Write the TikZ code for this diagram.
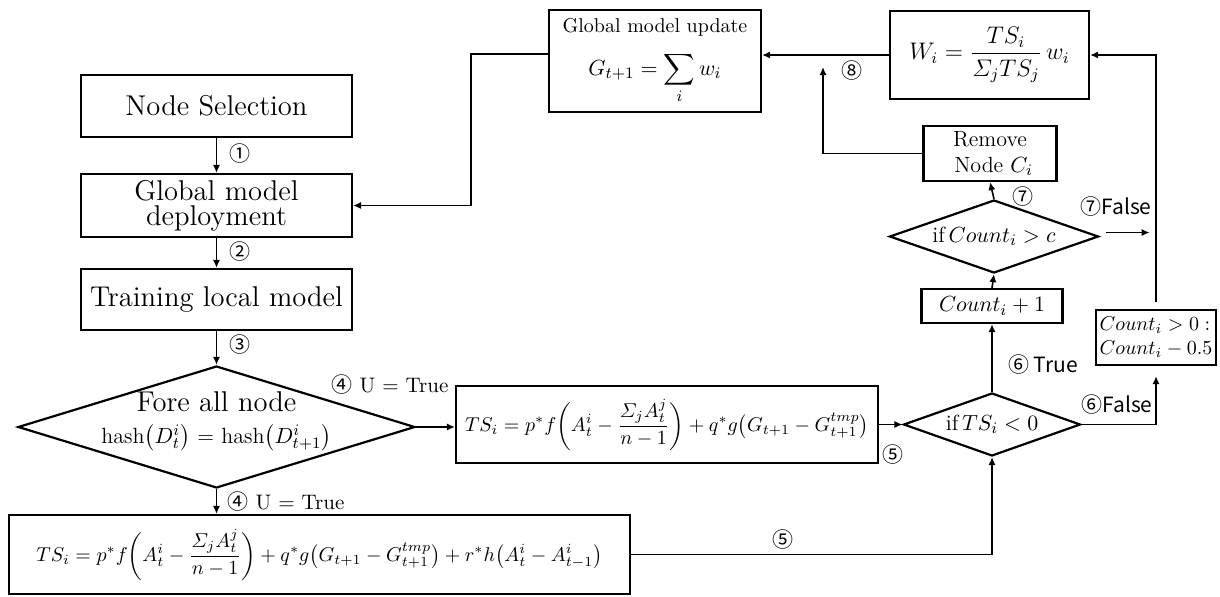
\documentclass[tikz,border=0pt]{standalone}
\usepackage{amsmath}
\usepackage{fontspec}
\newfontfamily\cjkfont{Noto Sans CJK SC}
\usetikzlibrary{shapes.geometric,arrows.meta,calc}

% circled step numbers and sans labels
\newcommand{\stepno}[1]{{\cjkfont #1}}
\newcommand{\sanslbl}[1]{{\cjkfont #1}}
% pieces of the trust score formula
\newcommand{\tsbase}{TS_i = p^{*} f\biggl(A_t^i - \dfrac{\varSigma_j A_t^j}{n-1}\biggr) + q^{*} g\bigl(G_{t+1} - G_{t+1}^{tmp}\bigr)}

\tikzset{
  box/.style={draw, line width=1.1pt, inner sep=1pt, align=center},
  dia/.style={draw, diamond, line width=1.1pt, inner sep=0pt},
  link/.style={line width=0.8pt, -{Latex[length=4pt,width=3.6pt]}},
  big/.style={font=\fontsize{14.3}{12.5}\selectfont},
  mid/.style={font=\fontsize{11}{13}\selectfont},
  frm/.style={font=\fontsize{10}{13}\selectfont},
  lbl/.style={inner sep=0pt, font=\fontsize{10.5}{12}\selectfont},
}

\begin{document}
\begin{tikzpicture}[x=0.5pt,y=-0.5pt]
\useasboundingbox (0,0) rectangle (1220,596);

% left column
\node[box, big, minimum width=135.5pt, minimum height=31pt] (sel) at (216.5,106) {Node Selection};
\node[box, big, minimum width=135.5pt, minimum height=31.5pt] (dep) at (216.5,205.5) {Global model\\deployment};
\node[box, big, minimum width=135.5pt, minimum height=30.5pt] (train) at (216.5,299.5) {Training local model};
\node[dia, minimum width=198.5pt, minimum height=61pt] (fore) at (216.5,427) {};
\node[inner sep=0pt, align=center, font=\fontsize{14.3}{13}\selectfont] (foreT) at (216.5,421)
  {Fore all node\\[3pt]{\fontsize{11}{13}\selectfont$\mathrm{hash}\bigl(D_t^i\bigr)\ \text{=}\ \mathrm{hash}\bigl(D_{t+1}^i\bigr)$}};

% trust score boxes
\node[box, frm, minimum width=211pt, minimum height=38.5pt] (tsA) at (667,424.5) {$\tsbase$};
\node[box, minimum width=310.5pt, minimum height=39.5pt, font=\fontsize{10.4}{13}\selectfont] (tsB) at (319.5,554.5)
  {$\tsbase + r^{*} h\bigl(A_t^i - A_{t-1}^i\bigr)$};

% right column
\node[dia, minimum width=88.5pt, minimum height=31.5pt] (ifts) at (992,424.5) {};
\node[mid, inner sep=0pt] (iftsT) at (992,424.5) {if\,$TS_i < 0$};
\node[box, mid, minimum width=70.5pt, minimum height=17pt] (cnt) at (992,306) {$Count_i + 1$};
\node[dia, minimum width=104.5pt, minimum height=36.5pt] (ifc) at (994,236.5) {};
\node[mid, inner sep=0pt] (ifcT) at (994,236.5) {if\,$Count_i > c$};
\node[box, mid, minimum width=66.5pt, minimum height=27.5pt] (rem) at (990,153.5) {Remove\\\ Node $C_i$};
\node[box, minimum width=99.5pt, minimum height=44pt, font=\fontsize{11.5}{14}\selectfont] (W) at (989.5,55)
  {$W_i = \dfrac{TS_i}{\varSigma_j TS_j}\, w_i$};
\node[box, minimum width=106pt, minimum height=51pt, font=\fontsize{10}{12}\selectfont] (upd) at (655,61)
  {Global model update\\[7pt] \fontsize{11}{13}\selectfont$G_{t+1} = \displaystyle\sum_i w_i$};
\node[box, minimum width=60pt, minimum height=27.5pt, align=left, inner sep=2pt, font=\fontsize{10.3}{12}\selectfont] (dec) at (1156,337.5)
  {$Count_i > 0:$\\$Count_i - 0.5$};

% flow
\draw[link] (sel) -- (dep);
\draw[link] (dep) -- (train);
\draw[link] (train) -- (fore);
\draw[link] (fore.east) -- (fore.east -| tsA.west);
\draw[link] (fore.south) -- (fore.south |- tsB.north);
\draw[link] (tsA.east) -- (ifts.west);
\draw[link] (tsB.east) -| (ifts.south);
\draw[link] (ifts.north) -- (cnt.south);
\draw[link] (ifts.east) -| ([yshift=-5pt]dec.south);
\draw[link] (cnt.north) -- (ifc.south);
\draw[link] (ifc.north) -- (rem.south);
\draw[link] ([xshift=3pt,yshift=2pt]ifc.east) -- ++(44,0);
\draw[link] ([yshift=3.5pt]dec.north) |- (W.east);
\draw[link] (W.west) -- (W.west -| upd.east);
\coordinate (m8) at (823,67);
\draw[link] (rem.west) -| (m8);
\draw[link] ([yshift=3.5pt]upd.west) -- ++(-77,0) |- (dep.east);

% step labels
\node[lbl] (l1) at (240,154) {\stepno{①}};
\node[lbl] (l2) at (240,252) {\stepno{②}};
\node[lbl] (l3) at (240,345) {\stepno{③}};
\node[lbl] (l4a) at (390,385) {\stepno{④} U = True};
\node[lbl] (l4b) at (286,502) {\stepno{④} U = True};
\node[lbl] (l5a) at (893,455) {\stepno{⑤}};
\node[lbl] (l5b) at (783,540) {\stepno{⑤}};
\node[lbl] (l6t) at (1043,365) {\sanslbl{⑥ True}};
\node[lbl] (l6f) at (1117,405) {\sanslbl{⑥False}};
\node[lbl] (l7) at (1023,197) {\stepno{⑦}};
\node[lbl] (l7f) at (1116,207) {\sanslbl{⑦False}};
\node[lbl] (l8) at (852,71) {\stepno{⑧}};
\end{tikzpicture}
\end{document}
